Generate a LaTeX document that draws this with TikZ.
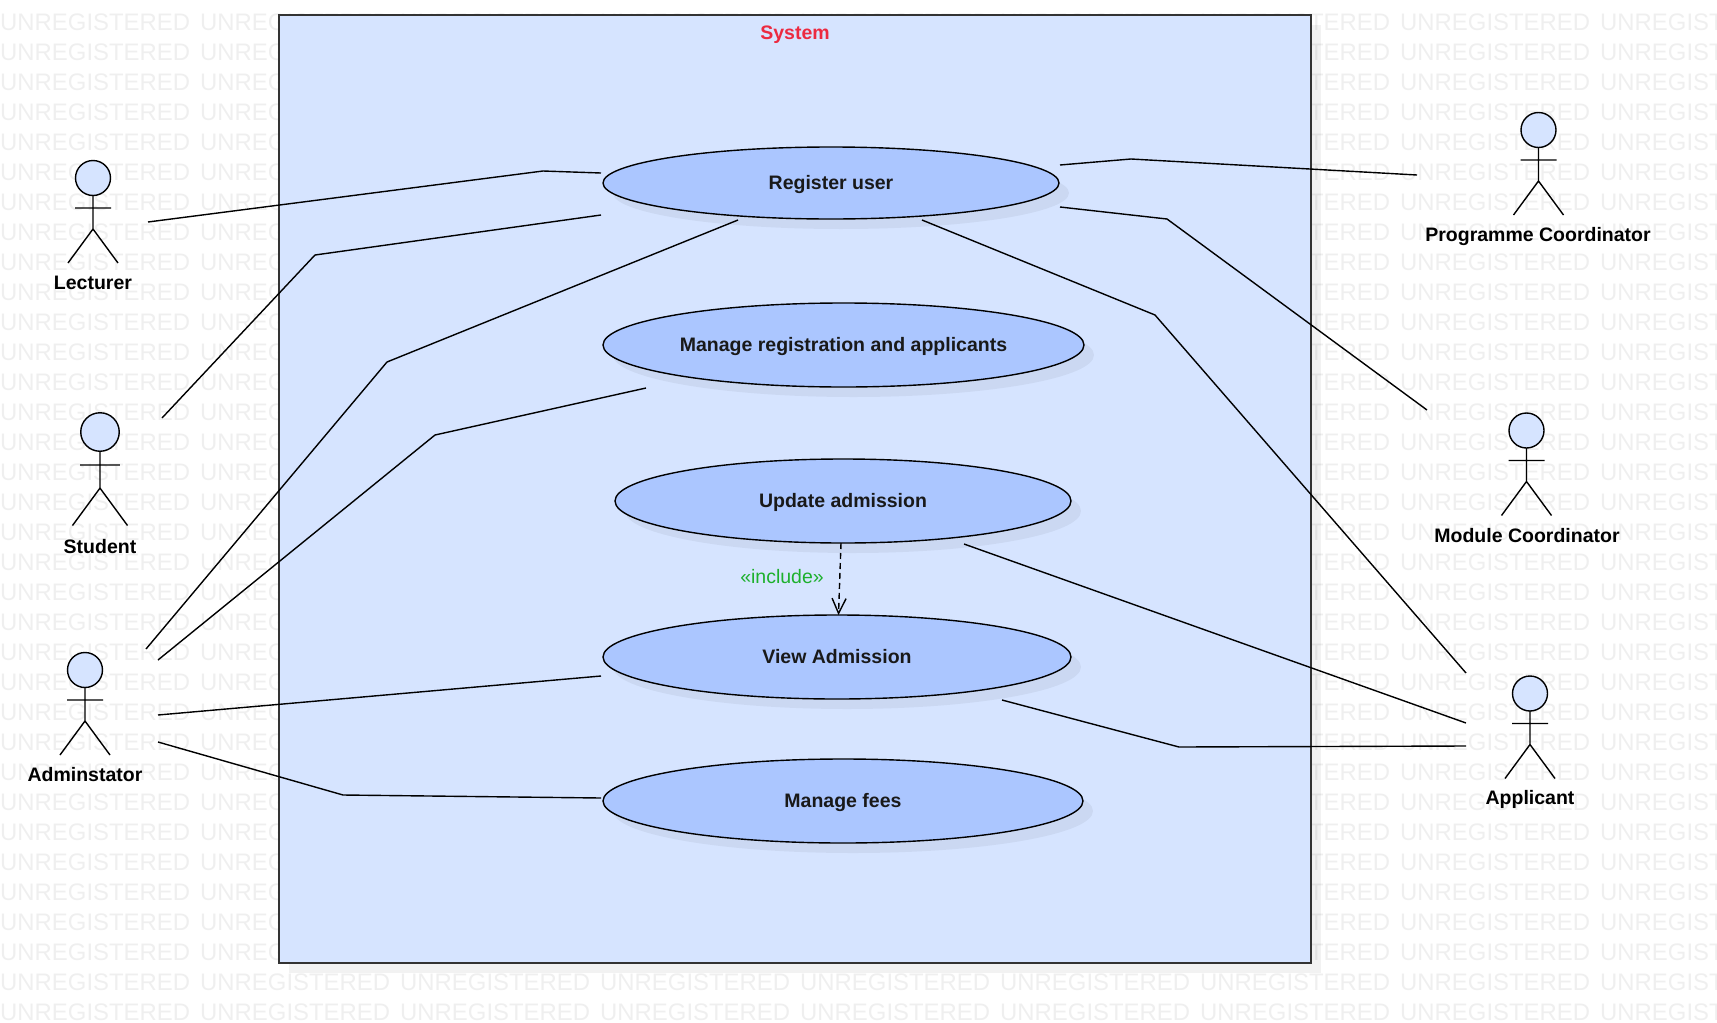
\documentclass[tikz,border=0pt]{standalone}
\usepackage{fontspec}
\setmainfont{Liberation Sans}
\usetikzlibrary{shadows}
\usetikzlibrary{positioning}
\usetikzlibrary{arrows.meta,shapes.geometric}

\definecolor{boxfill}{HTML}{D6E4FF}
\definecolor{casefill}{HTML}{ABC6FF}
\definecolor{boxline}{HTML}{333333}
\definecolor{marktext}{HTML}{EFEFEF}
\definecolor{boxtitle}{HTML}{EC2A40}
\definecolor{stereo}{HTML}{1DB02D}

\tikzset{
  line/.style={black, line width=1.4pt},
  usecase/.style={ellipse, draw=black, fill=casefill, line width=1.4pt, inner sep=0pt,
    font=\fontsize{19.5}{24}\selectfont\bfseries, text=black!90, text height=15pt, text depth=3pt,
    drop shadow={shadow xshift=10pt, shadow yshift=-10pt, opacity=0.05, fill=black}},
  actorname/.style={font=\fontsize{19.5}{24}\selectfont\bfseries, text=black},
  watermark/.style={font=\fontsize{23.9}{24}\selectfont, text=marktext, anchor=west, inner sep=0pt},
  pics/actor/.style={code={
    \draw[line, fill=boxfill] (0,0) circle (17.5);
    \draw[line] (0,17.5) -- (0,51) (-18,30) -- (18,30) (-25,85) -- (0,51) -- (25,85);
  }}
}

\begin{document}
\begin{tikzpicture}[x=1pt, y=-1pt]
\useasboundingbox (0,0) rectangle (1717,1023);
\clip (0,0) rectangle (1717,1023);

% watermark
\foreach \r in {0,...,33}
  \foreach \c in {0,...,8}
    \node[watermark] (wm-\r-\c) at (\c*200, \r*30+22) {UNREGISTERED};

% system box
\fill[black, opacity=0.05] (289,25) rectangle (1321,973);
\draw[boxline, fill=boxfill, line width=1.8pt] (279,15) rectangle (1311,963);
\node[font=\fontsize{19.5}{24}\selectfont\bfseries, text=boxtitle] (systitle) at (795,35) {System};

% use cases
\node[usecase, minimum width=456pt, minimum height=72pt] (reguser) at (831,183) {Register user};
\node[usecase, minimum width=481pt, minimum height=84pt] (managereg) at (843.5,345) {Manage registration and applicants};
\node[usecase, minimum width=456pt, minimum height=84pt] (update) at (843,501) {Update admission};
\node[usecase, minimum width=468pt, minimum height=84pt] (view) at (837,657) {View Admission};
\node[usecase, minimum width=480pt, minimum height=84pt] (fees) at (843,801) {Manage fees};

% include
\node[font=\fontsize{19.5}{24}\selectfont, text=stereo, inner sep=0pt] (incl) at (782,577) {«include»};
\coordinate (incfrom) at (841,543);
\coordinate (incto) at (838.5,615);
\draw[line, dash pattern=on 6pt off 4pt, -{Straight Barb[length=15pt,width=14pt]}] (incfrom) -- (incto);

% actors
\coordinate (lecturer) at (93,178);
\coordinate (student) at (100,432);
\coordinate (admin) at (85,670);
\coordinate (progco) at (1538.5,130);
\coordinate (modco) at (1526.5,430.5);
\coordinate (applicant) at (1530,693.5);
\pic at (lecturer) {actor};
\pic[scale=1.1] at (student) {actor};
\pic at (admin) {actor};
\pic at (progco) {actor};
\pic at (modco) {actor};
\pic at (applicant) {actor};
\node[actorname] (lecname) at (93,283) {Lecturer};
\node[actorname] (stuname) at (100,547) {Student};
\node[actorname] (admname) at (85,775) {Adminstator};
\node[actorname] (prgname) at (1538,236) {Programme Coordinator};
\node[actorname] (modname) at (1527,536) {Module Coordinator};
\node[actorname] (appname) at (1530,799) {Applicant};

% free connector ends
\coordinate (lecA) at (148,222);
\coordinate (stuA) at (162,418);
\coordinate (admA) at (146,649);
\coordinate (admB) at (158,660);
\coordinate (admC) at (158,715);
\coordinate (admD) at (158,742);
\coordinate (prgA) at (1417,175);
\coordinate (modA) at (1427,410);
\coordinate (appA) at (1466,673);
\coordinate (appB) at (1466,723);
\coordinate (appC) at (1466,746);
\coordinate (regA) at (601,173);
\coordinate (regB) at (601,215);
\coordinate (regC) at (738,220);
\coordinate (regD) at (1060,165);
\coordinate (regE) at (1060,207);
\coordinate (regF) at (922,220);
\coordinate (mngA) at (646,388);
\coordinate (updA) at (964,544);
\coordinate (vieA) at (601,676);
\coordinate (vieB) at (1002,700);
\coordinate (feeA) at (601,798);

% connectors
\draw[line] (lecA) -- (543,171) -- (regA);
\draw[line] (stuA) -- (315,255) -- (regB);
\draw[line] (admA) -- (387,362) -- (regC);
\draw[line] (admB) -- (435,435) -- (mngA);
\draw[line] (admC) -- (vieA);
\draw[line] (admD) -- (343,795) -- (feeA);
\draw[line] (prgA) -- (1131,159) -- (regD);
\draw[line] (modA) -- (1167,219) -- (regE);
\draw[line] (appA) -- (1155,315) -- (regF);
\draw[line] (appB) -- (updA);
\draw[line] (appC) -- (1179,747) -- (vieB);
\end{tikzpicture}
\end{document}
